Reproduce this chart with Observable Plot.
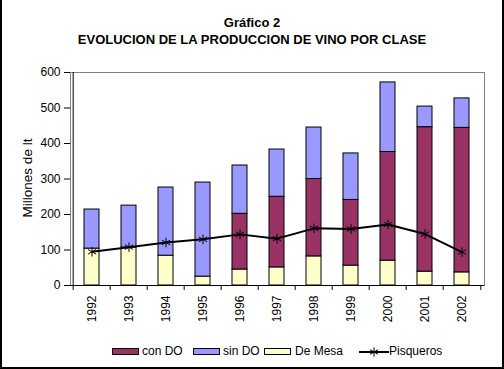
<!DOCTYPE html>
<html>
<head>
<meta charset="utf-8">
<script src="https://cdn.jsdelivr.net/npm/d3@7"></script>
<script src="https://cdn.jsdelivr.net/npm/@observablehq/plot@0.6"></script>
<style>
  html, body { margin: 0; padding: 0; background: #fff; }
  #wrap { position: relative; width: 504px; height: 369px; overflow: hidden; font-family: "Liberation Sans", Arial, sans-serif; }
  #frame { position: absolute; left: 0; top: -10px; width: 504px; height: 379px; box-sizing: border-box; border: 2px solid #000; }
  .title { position: absolute; left: 0; width: 504px; text-align: center; font-weight: bold; font-size: 13px; color: #000; }
  .lg { position: absolute; font-size: 12px; color: #000; line-height: 13px; }
  .sw { position: absolute; width: 27px; height: 7px; box-sizing: border-box; border: 1px solid #000; }
  #chart { position: absolute; left: 0; top: 0; }
  #ylabel { position: absolute; left: 27px; top: 178px; transform: translate(-50%, -50%) rotate(-90deg); font-size: 13.5px; white-space: nowrap; color: #000; }
</style>
</head>
<body>
<div id="wrap">
  <div id="chart"></div>
  <div class="title" style="top:15px">Gráfico 2</div>
  <div class="title" style="top:32px">EVOLUCION DE LA PRODUCCION DE VINO POR CLASE</div>
  <div id="ylabel"></div>
  <div id="legend"></div>
  <div id="frame"></div>
</div>
<script>
const years = ["1992","1993","1994","1995","1996","1997","1998","1999","2000","2001","2002"];
const conDO = [0, 0, 0, 0, 157, 199, 218, 185, 306, 407, 407];
const sinDO = [110, 118, 192, 265, 136, 133, 145, 131, 196, 58, 83];
const deMesa = [104, 107, 84, 25, 45, 51, 82, 56, 70, 39, 37];
const pisqueros = [95, 108, 121, 130, 144, 132, 161, 159, 172, 145, 94];
const seriesNames = ["con DO", "sin DO", "De Mesa"];
const stackOrder = ["De Mesa", "con DO", "sin DO"];
const seriesColors = ["#993366", "#9999FF", "#FFFFCC"];
const yTicks = [0, 100, 200, 300, 400, 500, 600];
const yLabel = "Millones de lt";
const lineName = "Pisqueros";

const W = 504, H = 369, ML = 70, MR = 20, MT = 72, MB = 84;
const step = (W - ML - MR) / years.length;

const rows = [];
years.forEach((yr, i) => {
  rows.push({year: yr, series: "De Mesa", value: deMesa[i]});
  rows.push({year: yr, series: "con DO", value: conDO[i]});
  rows.push({year: yr, series: "sin DO", value: sinDO[i]});
});
const bars = rows.filter(d => d.value > 0);
const line = years.map((yr, i) => ({year: yr, value: pisqueros[i]}));

const chart = Plot.plot({
  width: W, height: H,
  marginLeft: ML, marginRight: MR, marginTop: MT, marginBottom: MB,
  style: {fontFamily: "Liberation Sans, Arial, sans-serif", fontSize: "12px", color: "#000", background: "transparent"},
  x: {type: "band", domain: years, paddingInner: 0.59, paddingOuter: 0.295},
  y: {domain: [0, 600]},
  color: {domain: seriesNames, range: seriesColors},
  marks: [
    Plot.frame({stroke: "#808080"}),
    Plot.barY(bars, Plot.stackY({
      x: "year", y: "value", z: "series", fill: "series",
      order: stackOrder, stroke: "#000", strokeWidth: 1
    })),
    Plot.line(line, {x: "year", y: "value", stroke: "#000", strokeWidth: 2}),
    Plot.dot(line, {x: "year", y: "value", symbol: "asterisk", r: 4.5, stroke: "#000", strokeWidth: 1}),
    Plot.ruleY([0], {stroke: "#000"}),
    Plot.ruleX([years[0]], {dx: -step / 2, y1: 0, y2: 600, stroke: "#000"}),
    Plot.ruleX(years, {dx: -step / 2, y1: 0, y2: -14, stroke: "#000"}),
    Plot.ruleX([years[years.length - 1]], {dx: step / 2, y1: 0, y2: -14, stroke: "#000"}),
    Plot.axisY({ticks: yTicks, tickSize: 6, tickPadding: 4, fontSize: 12, label: null}),
    Plot.axisX({tickSize: 0, tickRotate: -90, tickPadding: 10, fontSize: 12, label: null})
  ]
});
document.getElementById("chart").appendChild(chart);
document.getElementById("ylabel").textContent = yLabel;

// legend
const lg = document.getElementById("legend");
const swX = [112, 193, 264];
const txX = [142, 223, 295];
seriesNames.forEach((s, i) => {
  const sw = document.createElement("div");
  sw.className = "sw";
  sw.style.left = swX[i] + "px"; sw.style.top = "348px";
  sw.style.background = seriesColors[i];
  lg.appendChild(sw);
  const t = document.createElement("div");
  t.className = "lg";
  t.style.left = txX[i] + "px"; t.style.top = "345px";
  t.textContent = s;
  lg.appendChild(t);
});
const ls = document.createElementNS("http://www.w3.org/2000/svg", "svg");
ls.setAttribute("width", 32); ls.setAttribute("height", 14);
ls.style.position = "absolute"; ls.style.left = "358px"; ls.style.top = "345px";
ls.innerHTML = '<line x1="1" y1="7" x2="31" y2="7" stroke="#000" stroke-width="2"/>' +
  '<path transform="translate(16,7)" d="' + d3.symbol(d3.symbolAsterisk, 60)() + '" stroke="#000" fill="none"/>';
lg.appendChild(ls);
const tp = document.createElement("div");
tp.className = "lg"; tp.style.left = "389px"; tp.style.top = "345px";
tp.textContent = lineName;
lg.appendChild(tp);
</script>
</body>
</html>
